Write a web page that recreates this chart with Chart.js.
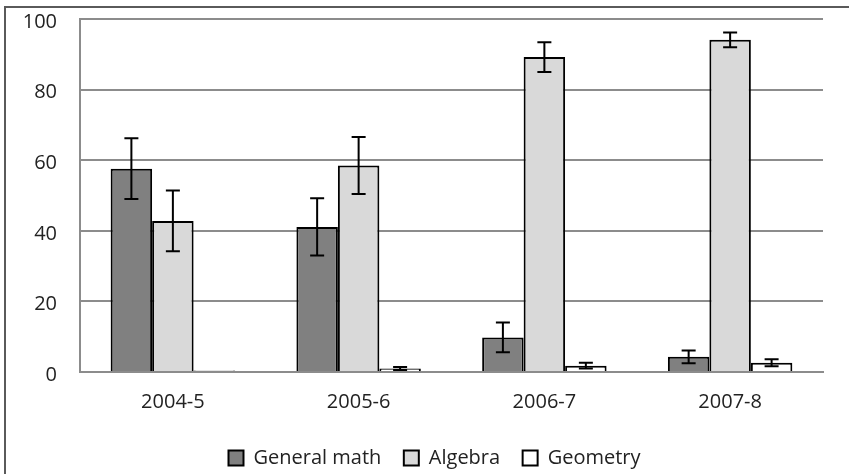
<!DOCTYPE html>
<html>
<head>
<meta charset="utf-8">
<script src="https://cdn.jsdelivr.net/npm/chart.js@4.4.1/dist/chart.umd.min.js"></script>
<style>
  html, body { margin: 0; padding: 0; background: #fff; }
  #wrap { position: relative; width: 849px; height: 474px; }
</style>
</head>
<body>
<div id="wrap"><canvas id="chart"></canvas></div>
<script>
// ── data ──────────────────────────────────────────
const categories     = ["2004-5", "2005-6", "2006-7", "2007-8"];
const generalMath    = [57.6, 41.1, 9.8, 4.3];
const generalMathErr = [8.6, 8.1, 4.2, 1.8];
const algebra        = [42.8, 58.5, 89.2, 94.1];
const algebraErr     = [8.6, 8.1, 4.2, 2.1];
const geometry       = [0.4, 1.0, 1.8, 2.6];
const geometryErr    = [0, 0.4, 0.8, 1.0];
const yTicks         = [0, 20, 40, 60, 80, 100];

const FONT = "'Open Sans', 'Liberation Sans', sans-serif";
const errors = [generalMathErr, algebraErr, geometryErr];

// ── error bars ────────────────────────────────────
const errorBars = {
  id: "errorBars",
  afterDatasetsDraw(chart) {
    const { ctx, scales: { y } } = chart;
    ctx.save();
    ctx.strokeStyle = "#000";
    ctx.lineWidth = 2;
    chart.data.datasets.forEach((ds, di) => {
      const meta = chart.getDatasetMeta(di);
      meta.data.forEach((bar, i) => {
        const e = errors[di][i];
        if (!e) return;
        const v = ds.data[i];
        const yTop = y.getPixelForValue(v + e);
        const yBot = y.getPixelForValue(Math.max(0, v - e));
        const x = bar.x;
        ctx.beginPath();
        ctx.moveTo(x, yTop); ctx.lineTo(x, yBot);
        ctx.moveTo(x - 7, yTop); ctx.lineTo(x + 7, yTop);
        ctx.moveTo(x - 7, yBot); ctx.lineTo(x + 7, yBot);
        ctx.stroke();
      });
    });
    ctx.restore();
  },
};

// ── outer frame (top + left edge only, as cropped) + legend nudge ─
const frame = {
  id: "frame",
  afterLayout(chart) {
    // the legend sits a bit right of the canvas centre in the original
    chart.legend.left += 23;
    chart.legend.right += 23;
  },
  beforeDraw(chart) {
    const { ctx } = chart;
    ctx.save();
    ctx.strokeStyle = "#5a5a5a";
    ctx.lineWidth = 2;
    ctx.beginPath();
    ctx.moveTo(5, 474); ctx.lineTo(5, 7); ctx.lineTo(849, 7);
    ctx.stroke();
    ctx.restore();
  },
};

new Chart(document.getElementById("chart"), {
  type: "bar",
  data: {
    labels: categories,
    datasets: [
      { label: "General math", data: generalMath, backgroundColor: "#808080" },
      { label: "Algebra",      data: algebra,     backgroundColor: "#d9d9d9" },
      { label: "Geometry",     data: geometry,    backgroundColor: "#ffffff" },
    ].map(d => ({ ...d, borderColor: "#000", borderWidth: 2,
                  categoryPercentage: 0.67, barPercentage: 1 })),
  },
  options: {
    responsive: true,
    maintainAspectRatio: false,
    animation: false,
    layout: { padding: { left: 0, right: 26, top: 19, bottom: -4 } },
    plugins: {
      tooltip: { enabled: false },
      legend: {
        position: "bottom",
        labels: {
          color: "#222",
          font: { family: FONT, size: 20 },
          boxWidth: 15,
          boxHeight: 15,
          padding: 22.5,
        },
      },
    },
    scales: {
      x: {
        grid: { display: false, drawTicks: false },
        border: { color: "#8c8c8c", width: 2 },
        ticks: { color: "#222", font: { family: FONT, size: 20 }, padding: 18 },
        afterFit(s) { s.height = 53.5; s.paddingLeft = 0; s.paddingRight = 0; },
      },
      y: {
        min: 0,
        max: 100,
        afterBuildTicks(s) { s.ticks = yTicks.map(v => ({ value: v })); },
        grid: { color: "#8c8c8c", lineWidth: 2, drawTicks: false },
        border: { color: "#8c8c8c", width: 2 },
        ticks: { color: "#222", font: { family: FONT, size: 20 }, padding: 23, labelOffset: 3 },
        afterFit(s) { s.width = 80; s.paddingTop = 0; s.paddingBottom = 0; },
      },
    },
  },
  plugins: [frame, errorBars],
});
</script>
</body>
</html>
